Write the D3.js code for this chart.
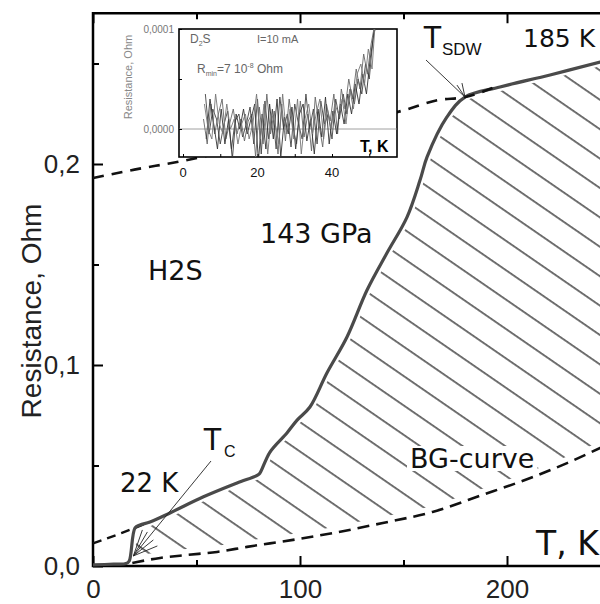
<!DOCTYPE html>
<html><head><meta charset="utf-8">
<script src="https://cdn.jsdelivr.net/npm/d3@7"></script>
<style>body{margin:0;background:#fff}svg{display:block}</style>
</head><body>
<svg id="c" width="600" height="604"></svg>
<script>
// ---------- main panel data (T in K, R in Ohm) ----------
const mainT = [0, 10, 16, 17.5, 20.3, 22.7, 27.5, 37.2, 53.1, 69.6, 79.7, 80.7, 85.5, 93.7, 98.6, 104.8, 113, 122.7, 132.4, 142, 151.7, 158, 161.4, 171, 179.7, 196.6, 220.8, 245, 252];
const mainR = [0.0006, 0.0009, 0.0012, 0.0025, 0.0190, 0.0204, 0.0219, 0.0264, 0.0343, 0.0413, 0.0453, 0.0463, 0.0567, 0.0662, 0.0726, 0.0791, 0.0960, 0.1139, 0.1373, 0.1557, 0.1736, 0.1920, 0.2035, 0.2234, 0.2333, 0.2383, 0.2443, 0.2507, 0.2525];
const bgT = [19, 21.3, 32.4, 45.4, 59.9, 74.4, 96.6, 116, 140, 164, 188, 212.6, 229, 245, 252];
const bgR = [0.0015, 0.0020, 0.0040, 0.0055, 0.0070, 0.0095, 0.0130, 0.0164, 0.0214, 0.0269, 0.0353, 0.0443, 0.0512, 0.0587, 0.0620];
const normT = [0, 20, 40.6, 80, 120, 150.7, 166.7, 179.7, 193];
const normR = [0.1930, 0.1972, 0.2010, 0.2098, 0.2188, 0.2269, 0.2318, 0.2333, 0.2378];
const lowT = [0, 14, 27.5];
const lowR = [0.0112, 0.0165, 0.0219];
const xTicks = [0, 100, 200];
const xMinor = [50, 150, 250];
const yTicks = [0, 0.1, 0.2];
const yMinor = [0.05, 0.15, 0.25];

// ---------- inset data (T in K, R in units of 1e-5 Ohm) ----------
const insA_T = d3.range(6, 53, 1);
const insA_R = [3.5,-0.5,2,1,-1.5,0.5,1.8,-2,0.8,1.5,-0.8,0.5,2.2,-1.5,3,-2.5,2.8,-1,2,-2,3.2,0,1.5,-1.8,2.5,0.5,-1,3.5,0,2,-1.5,2.8,0.5,1.5,-1,3,1,3.5,1.5,4,2.5,5,3.5,6.5,5,9,12];
const insB_T = d3.range(5.5, 52, 1);
const insB_R = [1,-1.5,2.5,-0.5,1.5,3,-1,0.5,2,-0.5,1,-1.2,0.8,1.5,-2.8,2.2,-1.5,3.5,-0.5,1.8,-2.5,2.5,-1.2,3,0.2,-1.5,2.8,-0.8,1.5,-2.2,3.2,0.5,-1.8,2.5,0.8,3.5,-0.5,4,2,5,3,6,4,7.5,5.5,8.5,10.5];
const insC_T = d3.range(6.25, 53, 1);
const insC_R = [-1,3,0.5,-2,2,-1.5,1,-3,1.5,0,2,-0.5,1,2.5,-3.2,1.5,-2,2.5,-1,3,-2.8,1.2,-0.5,2.2,-2,1.5,2.5,-1.2,1,-2.5,2,-0.8,3.2,-1.5,1.8,-0.5,2.5,0.5,3.5,1.5,4.5,2.5,5.5,3.5,7,9.5,11];
const insD_T = d3.range(5.75, 52, 1);
const insD_R = [2.5,0,-1,3.5,0.5,-0.5,2.5,0,1,-1.5,0.5,1.5,-1,0.5,3.5,-1,2.5,-2.5,1.5,0.5,-1.5,3.5,-0.5,2,-1,3,-2.5,1,2.5,-0.5,1.5,3,-1,2,0,2.5,1.5,3,0.5,4,2,5.5,6.5,4.5,8,6,11.5];
const insXTicks = [0, 20, 40];
const insYTicks = [0, 10];

const svg = d3.select('#c');
svg.append('rect').attr('width',600).attr('height',604).attr('fill','#fff');

const x = d3.scaleLinear([0, 250], [93, 610.5]);
const y = d3.scaleLinear([0, 0.275], [566, 13.25]);
const line = d3.line().x(d => x(d[0])).y(d => y(d[1]));
const zip = (a, b) => a.map((v, i) => [v, b[i]]);

const mainPts = zip(mainT, mainR);
const bgPts = zip(bgT, bgR);

// ---------- hatch pattern ----------
const defs = svg.append('defs');
const pat = defs.append('pattern').attr('id','hatch').attr('patternUnits','userSpaceOnUse')
  .attr('width', 20).attr('height', 24.2).attr('patternTransform','rotate(34.6)');
pat.append('line').attr('x1',-1).attr('x2',21).attr('y1',7.7).attr('y2',7.7)
  .attr('stroke','#000').attr('stroke-width',1.1);

const upper = mainPts.filter(d => d[0] >= 17.5);
const region = upper.concat(bgPts.slice().reverse());
svg.append('path').attr('d', line(region) + 'Z').attr('fill','url(#hatch)');

const smooth = d3.line().x(d=>x(d[0])).y(d=>y(d[1])).curve(d3.curveMonotoneX);
const cat = d3.line().x(d=>x(d[0])).y(d=>y(d[1])).curve(d3.curveCatmullRom);
svg.append('path').attr('d', cat(mainPts)).attr('fill','none')
  .attr('stroke','#fff').attr('stroke-width',8);
svg.append('path').attr('d', smooth(bgPts))
  .attr('fill','none').attr('stroke','#fff').attr('stroke-width',12);

// ---------- axes ----------
const fmt = d => d3.format('.1f')(d).replace('.', ',');
const axStyle = g => {
  g.select('.domain').remove();
  g.selectAll('.tick line').attr('stroke','#000').attr('stroke-width',2);
  g.selectAll('.tick text').attr('font-family','Liberation Sans, Arial, sans-serif')
    .attr('font-size',26).attr('fill','#222');
};
svg.append('g').attr('transform','translate(0,566)')
  .call(d3.axisBottom(x).tickValues(xTicks).tickSizeInner(-10).tickSizeOuter(0).tickPadding(14).tickFormat(d3.format('d')))
  .call(axStyle);
svg.append('g').attr('transform','translate(0,566)')
  .call(d3.axisBottom(x).tickValues(xMinor).tickSizeInner(-6).tickSizeOuter(0).tickFormat(''))
  .call(axStyle);
svg.append('g').attr('transform','translate(0,13.25)')
  .call(d3.axisTop(x).tickValues(xTicks).tickSizeInner(-10).tickSizeOuter(0).tickFormat(''))
  .call(axStyle);
svg.append('g').attr('transform','translate(0,13.25)')
  .call(d3.axisTop(x).tickValues(xMinor).tickSizeInner(-6).tickSizeOuter(0).tickFormat(''))
  .call(axStyle);
svg.append('g').attr('transform','translate(93,0)')
  .call(d3.axisLeft(y).tickValues(yTicks).tickSizeInner(-10).tickSizeOuter(0).tickPadding(13).tickFormat(fmt))
  .call(axStyle);
svg.append('g').attr('transform','translate(93,0)')
  .call(d3.axisLeft(y).tickValues(yMinor).tickSizeInner(-6).tickSizeOuter(0).tickFormat(''))
  .call(axStyle);
svg.append('path').attr('d', `M${x(0)},${y(0.275)}H${x(250)}V${y(0)}H${x(0)}Z`)
  .attr('fill','none').attr('stroke','#000').attr('stroke-width',2.5);

// ---------- curves ----------
svg.append('path').attr('d', smooth(bgPts)).attr('fill','none')
  .attr('stroke','#111').attr('stroke-width',2.6).attr('stroke-dasharray','12,7');
svg.append('path').attr('d', smooth(zip(lowT, lowR))).attr('fill','none')
  .attr('stroke','#111').attr('stroke-width',2.4).attr('stroke-dasharray','9,6');
svg.append('path').attr('d', cat(mainPts))
  .attr('fill','none').attr('stroke','#4a4a4a').attr('stroke-width',3.2).attr('stroke-linejoin','round');
svg.append('path').attr('d', smooth(zip(normT, normR))).attr('fill','none')
  .attr('stroke','#111').attr('stroke-width',2.6).attr('stroke-dasharray','11,8');

// ---------- annotation arrows ----------
const thin = (x1,y1,x2,y2) => svg.append('line').attr('x1',x1).attr('y1',y1).attr('x2',x2).attr('y2',y2)
  .attr('stroke','#222').attr('stroke-width',0.9);
const tcX = x(19.5), tcY = y(0.005);
thin(211, 461, tcX, tcY);
thin(tcX, tcY, tcX+14, tcY-24);
thin(tcX, tcY, tcX+20, tcY-16);
thin(tcX, tcY, tcX+24, tcY-10);
thin(tcX, tcY, tcX+9, tcY-26);
const sdX = x(179.7), sdY = y(0.2333);
thin(426, 60, sdX, sdY);
thin(sdX, sdY, sdX-8, sdY-12);
thin(sdX, sdY, sdX-3, sdY-14);

// ---------- texts ----------
const labels = svg.append('g');
const T = (tx, ty, s, size, fam) => labels.append('text').attr('x',tx).attr('y',ty).text(s).attr('font-size',size)
    .attr('font-family', fam || 'DejaVu Sans, Verdana, sans-serif').attr('fill','#111');
const whiteBehind = (t, pad) => {
  const b = t.node().getBBox();
  labels.insert('rect', () => t.node()).attr('x', b.x - pad).attr('y', b.y + 3)
    .attr('width', b.width + 2*pad).attr('height', b.height - 6).attr('fill', '#fff');
};
whiteBehind(T(410, 468, 'BG-curve', 27), 3);
T(260, 243, '143 GPa', 27);
T(148, 280, 'H2S', 27);
T(120, 492, '22 K', 26);
T(523, 47, '185 K', 25);
whiteBehind(T(536, 555, 'T, K', 33), 2);
T(203, 450, 'T', 31, 'Liberation Sans, Arial, sans-serif');
T(224, 457, 'C', 16, 'Liberation Sans, Arial, sans-serif');
T(423, 48, 'T', 31, 'Liberation Sans, Arial, sans-serif');
T(442, 55, 'SDW', 17, 'Liberation Sans, Arial, sans-serif');
svg.append('text').attr('transform','translate(41,311) rotate(-90)').attr('text-anchor','middle')
  .attr('font-family','Liberation Sans, Arial, sans-serif').attr('font-size',28).attr('fill','#222')
  .text('Resistance, Ohm');

// ---------- inset ----------
const xi = d3.scaleLinear([0, 40], [183, 332]);
const yi = d3.scaleLinear([0, 10], [129, 29]);
const ins = svg.append('g');
ins.append('rect').attr('x',179).attr('y',29).attr('width',218).attr('height',128)
  .attr('fill','#fff').attr('stroke','#000').attr('stroke-width',1.6);
defs.append('clipPath').attr('id','ic').append('rect').attr('x',179).attr('y',29).attr('width',218).attr('height',128);
ins.append('line').attr('x1',179).attr('x2',397).attr('y1',yi(0)).attr('y2',yi(0)).attr('stroke','#888').attr('stroke-width',0.8);
const il = d3.line().x(d=>xi(d[0])).y(d=>yi(d[1]));
const traces = [[insA_T, insA_R, '#444'], [insB_T, insB_R, '#666'], [insC_T, insC_R, '#333'], [insD_T, insD_R, '#777']];
const tg = ins.append('g').attr('clip-path','url(#ic)');
traces.forEach(([a,b,c]) => tg.append('path').attr('d', il(zip(a,b))).attr('fill','none')
  .attr('stroke',c).attr('stroke-width',0.9));
ins.append('g').attr('transform','translate(0,157)')
  .call(d3.axisBottom(xi).tickValues([0,10,20,30,40,50]).tickSizeInner(-3).tickSizeOuter(0).tickFormat(''))
  .call(g => { g.select('.domain').remove(); g.selectAll('line').attr('stroke','#000'); });
ins.append('g').attr('transform','translate(179,0)')
  .call(d3.axisLeft(yi).tickValues([0,5,10]).tickSizeInner(-3).tickSizeOuter(0).tickFormat(''))
  .call(g => { g.select('.domain').remove(); g.selectAll('line').attr('stroke','#000'); });
insXTicks.forEach(v => ins.append('text').attr('x', xi(v)).attr('y', 177).attr('text-anchor','middle')
  .attr('font-family','Liberation Sans, Arial, sans-serif').attr('font-size',13).attr('fill','#111').text(v));
insYTicks.forEach(v => ins.append('text').attr('x', 174).attr('y', yi(v)+4).attr('text-anchor','end')
  .attr('font-family','Liberation Sans, Arial, sans-serif').attr('font-size',10).attr('fill','#777')
  .text(d3.format('.4f')(v*1e-5).replace('.', ',')));
ins.append('text').attr('transform','translate(132,77) rotate(-90)').attr('text-anchor','middle')
  .attr('font-family','Liberation Sans, Arial, sans-serif').attr('font-size',11).attr('fill','#888')
  .text('Resistance, Ohm');
const gs = (tx, ty) => ins.append('text').attr('x',tx).attr('y',ty)
  .attr('font-family','Liberation Sans, Arial, sans-serif').attr('fill','#666').attr('font-size',12);
const d2s = gs(190, 43); d2s.append('tspan').text('D'); d2s.append('tspan').attr('font-size',7).attr('dy',3).text('2'); d2s.append('tspan').attr('dy',-3).text('S');
gs(257, 43).attr('font-size',11).text('I=10 mA');
const rm = gs(197, 73); rm.append('tspan').text('R'); rm.append('tspan').attr('font-size',7).attr('dy',3).text('min');
rm.append('tspan').attr('dy',-3).text('=7 10'); rm.append('tspan').attr('font-size',7).attr('dy',-5).text('-8');
rm.append('tspan').attr('dy',5).text(' Ohm');
ins.append('text').attr('x',360).attr('y',152).attr('font-family','Liberation Sans, Arial, sans-serif')
  .attr('font-weight','bold').attr('font-size',16).attr('fill','#000').text('T, K');
</script>
</body></html>
